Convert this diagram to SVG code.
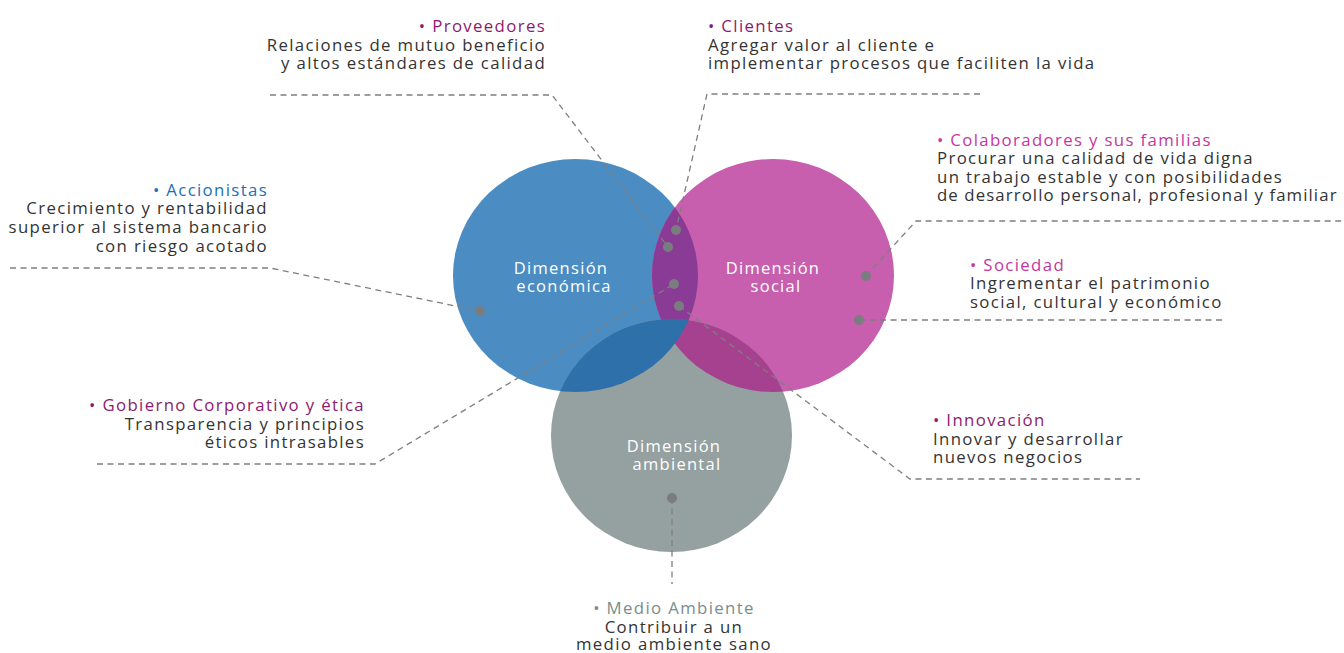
<svg xmlns="http://www.w3.org/2000/svg" width="1344" height="653" viewBox="0 0 1344 653">
<style>
text{font-family:"Open Sans","Liberation Sans",sans-serif;font-size:16.8px;letter-spacing:1.35px;fill:#333333}
.r{text-anchor:end}
.c{text-anchor:middle}
.t1{fill:#8a1a6e}
.t2{fill:#c4379e}
.tb{fill:#1a70b8}
.tg{fill:#7a8c8c}
.lbl{fill:#ffffff;font-size:16.5px;text-anchor:middle;letter-spacing:1.3px}
.ln{fill:none;stroke:#7f7f7f;stroke-width:1.3;stroke-dasharray:6 4.5}
.dot{fill:#7a7d7f}
</style>
<defs>
<clipPath id="cBlue"><ellipse cx="575.5" cy="275.5" rx="122.5" ry="116.5"/></clipPath>
<clipPath id="cPink"><ellipse cx="773" cy="275.5" rx="121" ry="116.5"/></clipPath>
</defs>
<g id="circles">
<g id="eco"><ellipse cx="575.5" cy="275.5" rx="122.5" ry="116.5" fill="#4b8dc3"/></g>
<g id="soc"><ellipse cx="773" cy="275.5" rx="121" ry="116.5" fill="#c75fae"/></g>
<g id="amb"><ellipse cx="671.5" cy="435.5" rx="120.5" ry="116.5" fill="#95a0a0"/></g>
<ellipse cx="773" cy="275.5" rx="121" ry="116.5" fill="#8a3b96" clip-path="url(#cBlue)"/>
<ellipse cx="671.5" cy="435.5" rx="120.5" ry="116.5" fill="#a6418f" clip-path="url(#cPink)"/>
<ellipse cx="671.5" cy="435.5" rx="120.5" ry="116.5" fill="#2d70aa" clip-path="url(#cBlue)"/>
<text class="lbl" x="561" y="274">Dimensión</text>
<text class="lbl" x="564" y="292">económica</text>
<text class="lbl" x="773" y="274">Dimensión</text>
<text class="lbl" x="776" y="292">social</text>
<text class="lbl" x="674" y="452">Dimensión</text>
<text class="lbl" x="677" y="470">ambiental</text>
</g>
<g id="connectors">
<polyline class="ln" points="270,95 552,95 668,247"/>
<polyline class="ln" points="980,94 707,94 676,230"/>
<polyline class="ln" points="10,268 270,268 480,311"/>
<polyline class="ln" points="97,464 375,464 674,284"/>
<polyline class="ln" points="866,276 916,221 1344,221"/>
<polyline class="ln" points="859,320 1226,320"/>
<polyline class="ln" points="679,306 910,479 1140,479"/>
<polyline class="ln" points="672,498 672,584"/>
</g>
<g id="dots">
<circle class="dot" cx="480" cy="311" r="5"/>
<circle class="dot" cx="668" cy="247" r="5"/>
<circle class="dot" cx="676" cy="230" r="5"/>
<circle class="dot" cx="674" cy="284" r="5"/>
<circle class="dot" cx="679" cy="306" r="5"/>
<circle class="dot" cx="866" cy="276" r="5"/>
<circle class="dot" cx="859" cy="320" r="5"/>
<circle class="dot" cx="672" cy="498" r="5"/>
</g>
<g id="proveedores">
<text class="r t1" x="546" y="32">• Proveedores</text>
<text class="r" x="546" y="51">Relaciones de mutuo beneficio</text>
<text class="r" x="546" y="69">y altos estándares de calidad</text>
</g>
<g id="clientes">
<text class="t1" x="708" y="32">• Clientes</text>
<text x="708" y="51">Agregar valor al cliente e</text>
<text x="708" y="69">implementar procesos que faciliten la vida</text>
</g>
<g id="colaboradores">
<text class="t2" x="937" y="146">• Colaboradores y sus familias</text>
<text x="937" y="164">Procurar una calidad de vida digna</text>
<text x="937" y="183">un trabajo estable y con posibilidades</text>
<text x="937" y="201" style="letter-spacing:1.1px">de desarrollo personal, profesional y familiar</text>
</g>
<g id="sociedad">
<text class="t2" x="970" y="271">• Sociedad</text>
<text x="970" y="289">Ingrementar el patrimonio</text>
<text x="970" y="308">social, cultural y económico</text>
</g>
<g id="innovacion">
<text class="t1" x="933" y="426">• Innovación</text>
<text x="933" y="445">Innovar y desarrollar</text>
<text x="933" y="463">nuevos negocios</text>
</g>
<g id="accionistas">
<text class="r tb" x="268" y="196">• Accionistas</text>
<text class="r" x="268" y="214">Crecimiento y rentabilidad</text>
<text class="r" x="268" y="233">superior al sistema bancario</text>
<text class="r" x="268" y="252">con riesgo acotado</text>
</g>
<g id="gobierno">
<text class="r t1" x="365" y="411">• Gobierno Corporativo y ética</text>
<text class="r" x="365" y="430">Transparencia y principios</text>
<text class="r" x="365" y="448">éticos intrasables</text>
</g>
<g id="medio">
<text class="c tg" x="674" y="614">• Medio Ambiente</text>
<text class="c" x="674" y="633">Contribuir a un</text>
<text class="c" x="674" y="650">medio ambiente sano</text>
</g>
</svg>
